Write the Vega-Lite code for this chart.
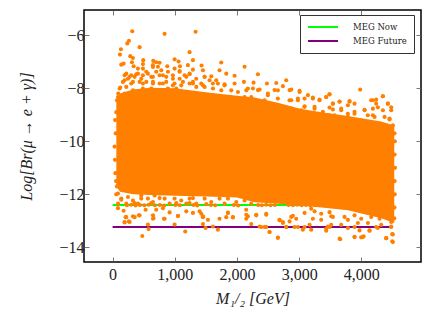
{"$schema":"https://vega.github.io/schema/vega-lite/v6.json","width":337,"height":252,"autosize":"none","padding":{"left":84,"top":10,"right":10,"bottom":60},"background":"white","config":{"view":{"stroke":"black","strokeWidth":1.5},"font":"Liberation Serif","axis":{"grid":false,"domain":false,"tickColor":"#555","tickWidth":0.8,"tickSize":-5,"labelColor":"#222","labelFont":"Liberation Serif","labelFontSize":16,"titleFont":"Liberation Serif","titleFontSize":16,"titleFontStyle":"italic","titleFontWeight":"normal","titleColor":"#222"}},"datasets":{"lines":[{"m":0,"br":-12.4,"limit":"MEG Now"},{"m":4500,"br":-12.4,"limit":"MEG Now"},{"m":0,"br":-13.23,"limit":"MEG Future"},{"m":4500,"br":-13.23,"limit":"MEG Future"}],"core":[{"m":60,"hi":-8.45,"lo":-11.7},{"m":120,"hi":-8.2,"lo":-11.9},{"m":327,"hi":-8.05,"lo":-12.0},{"m":600,"hi":-7.98,"lo":-12.02},{"m":1000,"hi":-8.0,"lo":-12.05},{"m":1500,"hi":-8.15,"lo":-12.08},{"m":2000,"hi":-8.28,"lo":-12.12},{"m":2283,"hi":-8.35,"lo":-12.3},{"m":2658,"hi":-8.55,"lo":-12.35},{"m":3033,"hi":-8.78,"lo":-12.42},{"m":3360,"hi":-8.9,"lo":-12.5},{"m":3784,"hi":-9.05,"lo":-12.6},{"m":4052,"hi":-9.15,"lo":-12.75},{"m":4320,"hi":-9.25,"lo":-12.9},{"m":4530,"hi":-9.4,"lo":-13.08}],"points":[{"m":316,"br":-5.85},{"m":836,"br":-5.95},{"m":1335,"br":-5.87},{"m":263,"br":-6.21},{"m":236,"br":-6.31},{"m":434,"br":-6.45},{"m":134,"br":-6.53},{"m":118,"br":-6.73},{"m":1238,"br":-6.64},{"m":284,"br":-6.79},{"m":327,"br":-6.86},{"m":493,"br":-6.94},{"m":654,"br":-6.97},{"m":702,"br":-7.02},{"m":756,"br":-7.04},{"m":997,"br":-6.91},{"m":1061,"br":-6.99},{"m":1292,"br":-6.94},{"m":1431,"br":-7.14},{"m":177,"br":-7.07},{"m":139,"br":-7.11},{"m":311,"br":-7.02},{"m":338,"br":-7.17},{"m":488,"br":-7.09},{"m":407,"br":-7.26},{"m":649,"br":-7.13},{"m":729,"br":-7.19},{"m":879,"br":-7.17},{"m":997,"br":-7.26},{"m":1083,"br":-7.17},{"m":1211,"br":-7.13},{"m":1292,"br":-7.3},{"m":1453,"br":-7.32},{"m":220,"br":-7.45},{"m":300,"br":-7.51},{"m":380,"br":-7.47},{"m":461,"br":-7.64},{"m":541,"br":-7.38},{"m":622,"br":-7.57},{"m":702,"br":-7.38},{"m":809,"br":-7.51},{"m":890,"br":-7.38},{"m":970,"br":-7.64},{"m":1077,"br":-7.35},{"m":1158,"br":-7.51},{"m":1238,"br":-7.47},{"m":1345,"br":-7.64},{"m":1479,"br":-7.57},{"m":1587,"br":-7.55},{"m":193,"br":-7.7},{"m":123,"br":-7.97},{"m":91,"br":-8.2},{"m":70,"br":-8.45},{"m":327,"br":-7.76},{"m":488,"br":-7.82},{"m":649,"br":-7.76},{"m":809,"br":-7.82},{"m":970,"br":-7.89},{"m":1131,"br":-7.76},{"m":1292,"br":-7.82},{"m":1453,"br":-7.89},{"m":1613,"br":-7.82},{"m":247,"br":-7.64},{"m":1747,"br":-7.03},{"m":1720,"br":-7.32},{"m":1828,"br":-7.45},{"m":1962,"br":-7.53},{"m":2122,"br":-7.19},{"m":2337,"br":-7.47},{"m":2792,"br":-7.7},{"m":2632,"br":-7.8},{"m":2482,"br":-7.82},{"m":2267,"br":-7.79},{"m":2112,"br":-7.76},{"m":1962,"br":-7.82},{"m":1801,"br":-7.85},{"m":1667,"br":-7.7},{"m":2873,"br":-8.05},{"m":3007,"br":-8.1},{"m":2739,"br":-7.92},{"m":3982,"br":-8.05},{"m":3489,"br":-8.23},{"m":3436,"br":-8.33},{"m":3328,"br":-8.43},{"m":3221,"br":-8.35},{"m":3087,"br":-8.39},{"m":4347,"br":-8.3},{"m":4240,"br":-8.43},{"m":4159,"br":-8.45},{"m":3811,"br":-8.48},{"m":3650,"br":-8.5},{"m":3543,"br":-8.58},{"m":4481,"br":-8.72},{"m":4427,"br":-8.58},{"m":4266,"br":-8.72},{"m":4052,"br":-8.81},{"m":3891,"br":-8.89},{"m":3677,"br":-8.77},{"m":3489,"br":-8.73},{"m":3248,"br":-8.7},{"m":3087,"br":-8.68},{"m":2846,"br":-8.45},{"m":2658,"br":-8.08},{"m":2364,"br":-8.05},{"m":2176,"br":-8.01},{"m":2498,"br":-8.26},{"m":2980,"br":-8.45},{"m":4508,"br":-9.4},{"m":4454,"br":-9.18},{"m":4186,"br":-9.02},{"m":4374,"br":-9.08},{"m":3998,"br":-9.21},{"m":3784,"br":-9.08},{"m":3570,"br":-9.02},{"m":3382,"br":-8.96},{"m":477,"br":-13.57},{"m":1168,"br":-13.4},{"m":579,"br":-13.31},{"m":568,"br":-13.14},{"m":997,"br":-13.14},{"m":1453,"br":-13.12},{"m":1495,"br":-13.27},{"m":1613,"br":-13.21},{"m":193,"br":-13.06},{"m":263,"br":-13.02},{"m":209,"br":-12.86},{"m":327,"br":-12.83},{"m":423,"br":-12.79},{"m":659,"br":-12.89},{"m":825,"br":-12.92},{"m":1051,"br":-12.81},{"m":1292,"br":-12.7},{"m":1453,"br":-12.83},{"m":1533,"br":-12.96},{"m":86,"br":-12.52},{"m":177,"br":-12.62},{"m":531,"br":-12.58},{"m":702,"br":-12.58},{"m":917,"br":-12.68},{"m":1185,"br":-12.64},{"m":1399,"br":-12.64},{"m":809,"br":-12.52},{"m":354,"br":-12.33},{"m":622,"br":-12.33},{"m":1024,"br":-12.33},{"m":1238,"br":-12.33},{"m":1506,"br":-12.37},{"m":139,"br":-12.2},{"m":461,"br":-12.16},{"m":756,"br":-12.14},{"m":1292,"br":-12.14},{"m":59,"br":-12.0},{"m":70,"br":-11.7},{"m":1694,"br":-13.33},{"m":1720,"br":-12.92},{"m":1854,"br":-12.7},{"m":1935,"br":-12.87},{"m":2149,"br":-12.58},{"m":2176,"br":-12.83},{"m":2310,"br":-12.77},{"m":2230,"br":-13.12},{"m":2364,"br":-13.21},{"m":2471,"br":-13.23},{"m":2524,"br":-13.42},{"m":2658,"br":-13.64},{"m":2471,"br":-12.77},{"m":2685,"br":-12.96},{"m":2739,"br":-13.08},{"m":2792,"br":-13.23},{"m":2900,"br":-12.81},{"m":2846,"br":-13.02},{"m":2926,"br":-13.23},{"m":3060,"br":-13.33},{"m":3194,"br":-13.33},{"m":3168,"br":-13.15},{"m":3436,"br":-13.37},{"m":3462,"br":-13.21},{"m":3516,"br":-13.15},{"m":3661,"br":-13.69},{"m":3891,"br":-13.6},{"m":3998,"br":-13.62},{"m":4036,"br":-13.58},{"m":4132,"br":-13.37},{"m":4266,"br":-13.27},{"m":4400,"br":-13.65},{"m":4497,"br":-13.77},{"m":4497,"br":-13.5},{"m":3784,"br":-13.27},{"m":3945,"br":-13.08},{"m":3677,"br":-13.15},{"m":3355,"br":-12.96},{"m":3087,"br":-12.7},{"m":3248,"br":-12.64},{"m":3516,"br":-12.83},{"m":3784,"br":-12.96},{"m":4106,"br":-13.08},{"m":4320,"br":-13.15},{"m":4481,"br":-13.21},{"m":4534,"br":-9.7},{"m":4540,"br":-10.0},{"m":4535,"br":-10.5},{"m":4542,"br":-11.0},{"m":4536,"br":-11.5},{"m":4538,"br":-12.0},{"m":4533,"br":-12.5},{"m":4530,"br":-12.9},{"m":40,"br":-9.2},{"m":50,"br":-9.7},{"m":32,"br":-10.2},{"m":38,"br":-10.7},{"m":45,"br":-11.2},{"m":55,"br":-11.5},{"m":60,"br":-8.9},{"m":193,"br":-7.51},{"m":274,"br":-7.57},{"m":166,"br":-7.76},{"m":354,"br":-7.57},{"m":408,"br":-7.45},{"m":488,"br":-7.51},{"m":568,"br":-7.45},{"m":649,"br":-7.57},{"m":756,"br":-7.51},{"m":863,"br":-7.57},{"m":970,"br":-7.51},{"m":1078,"br":-7.64},{"m":1185,"br":-7.57},{"m":1292,"br":-7.76},{"m":1426,"br":-7.82},{"m":1560,"br":-7.7},{"m":1694,"br":-7.82},{"m":1801,"br":-7.89},{"m":113,"br":-8.01},{"m":220,"br":-7.95},{"m":300,"br":-7.82},{"m":434,"br":-7.76},{"m":542,"br":-7.76},{"m":649,"br":-7.82},{"m":756,"br":-7.82},{"m":863,"br":-7.76},{"m":997,"br":-7.82},{"m":1104,"br":-7.89},{"m":1238,"br":-7.82},{"m":1346,"br":-7.95},{"m":1480,"br":-7.95},{"m":1614,"br":-8.01},{"m":1748,"br":-8.08},{"m":1908,"br":-8.08},{"m":2016,"br":-8.14},{"m":2150,"br":-8.08},{"m":2257,"br":-8.01},{"m":86,"br":-8.33},{"m":193,"br":-8.2},{"m":327,"br":-8.08},{"m":488,"br":-8.01},{"m":622,"br":-8.01},{"m":1855,"br":-8.33},{"m":1989,"br":-8.39},{"m":2123,"br":-8.33},{"m":2230,"br":-8.33},{"m":729,"br":-8.08},{"m":890,"br":-8.01},{"m":1024,"br":-8.01},{"m":488,"br":-7.26},{"m":649,"br":-7.2},{"m":783,"br":-7.32},{"m":1078,"br":-7.38},{"m":1238,"br":-7.45},{"m":1480,"br":-7.57},{"m":2337,"br":-8.07},{"m":2497,"br":-8.2},{"m":2605,"br":-8.07},{"m":2444,"br":-8.45},{"m":2658,"br":-8.39},{"m":2846,"br":-8.07},{"m":2873,"br":-8.45},{"m":3007,"br":-8.14},{"m":3141,"br":-8.26},{"m":2980,"br":-8.39},{"m":3221,"br":-8.39},{"m":3328,"br":-8.45},{"m":3435,"br":-8.33},{"m":3489,"br":-8.23},{"m":3543,"br":-8.58},{"m":3650,"br":-8.51},{"m":3811,"br":-8.51},{"m":3891,"br":-8.58},{"m":3784,"br":-8.64},{"m":4052,"br":-8.83},{"m":4186,"br":-8.45},{"m":4239,"br":-8.58},{"m":4347,"br":-8.3},{"m":4427,"br":-8.58},{"m":4481,"br":-8.83},{"m":4347,"br":-8.83},{"m":4186,"br":-8.77},{"m":3677,"br":-8.83},{"m":3543,"br":-8.8},{"m":3891,"br":-8.96},{"m":3382,"br":-8.89},{"m":3087,"br":-8.7},{"m":2873,"br":-8.77},{"m":2658,"br":-8.7},{"m":2497,"br":-8.58},{"m":3248,"br":-8.77},{"m":4105,"br":-9.02},{"m":4454,"br":-9.14},{"m":4213,"br":-9.08},{"m":3784,"br":-8.96},{"m":3489,"br":-9.02},{"m":3248,"br":-8.96},{"m":3033,"br":-8.83},{"m":86,"br":-11.97},{"m":140,"br":-12.16},{"m":86,"br":-12.35},{"m":247,"br":-12.1},{"m":327,"br":-12.23},{"m":220,"br":-12.35},{"m":461,"br":-12.04},{"m":568,"br":-12.16},{"m":649,"br":-12.29},{"m":408,"br":-12.35},{"m":756,"br":-11.97},{"m":837,"br":-12.16},{"m":997,"br":-12.16},{"m":1104,"br":-12.23},{"m":1238,"br":-12.16},{"m":1346,"br":-12.35},{"m":1480,"br":-12.16},{"m":1587,"br":-12.29},{"m":1721,"br":-12.16},{"m":1855,"br":-12.16},{"m":1989,"br":-12.29},{"m":2123,"br":-12.23},{"m":2230,"br":-12.35},{"m":917,"br":-12.35},{"m":1185,"br":-12.35},{"m":676,"br":-12.04},{"m":1801,"br":-12.35},{"m":220,"br":-12.86},{"m":193,"br":-13.04},{"m":274,"br":-13.04},{"m":354,"br":-12.86},{"m":434,"br":-12.79},{"m":649,"br":-12.92},{"m":649,"br":-12.79},{"m":837,"br":-12.92},{"m":1051,"br":-12.82},{"m":1453,"br":-12.86},{"m":1426,"br":-12.73},{"m":1828,"br":-12.86},{"m":1935,"br":-12.86},{"m":1855,"br":-12.69},{"m":2150,"br":-12.92},{"m":2150,"br":-12.77},{"m":2310,"br":-12.79},{"m":2471,"br":-12.73},{"m":2685,"br":-12.98},{"m":2739,"br":-13.04},{"m":2873,"br":-12.85},{"m":2953,"br":-12.92},{"m":3194,"br":-12.54},{"m":3221,"br":-12.92},{"m":3489,"br":-12.67},{"m":3543,"br":-12.85},{"m":3355,"br":-12.73},{"m":3730,"br":-12.85},{"m":3891,"br":-12.79},{"m":3998,"br":-12.92},{"m":4159,"br":-12.85},{"m":4293,"br":-12.92},{"m":4454,"br":-12.92},{"m":4481,"br":-13.04},{"m":2658,"br":-13.63},{"m":3650,"br":-13.67},{"m":3891,"br":-13.61},{"m":4025,"br":-13.61},{"m":4400,"br":-13.65},{"m":4507,"br":-13.51},{"m":4507,"br":-13.8},{"m":2524,"br":-13.42},{"m":2390,"br":-13.23},{"m":2444,"br":-13.23},{"m":2792,"br":-13.23},{"m":2980,"br":-13.23},{"m":3087,"br":-13.23},{"m":3435,"br":-13.3},{"m":3489,"br":-13.23},{"m":3891,"br":-13.23},{"m":3971,"br":-13.36},{"m":4132,"br":-13.36},{"m":4239,"br":-13.23},{"m":4481,"br":-13.23},{"m":230,"br":-12.41},{"m":300,"br":-12.39},{"m":370,"br":-12.42},{"m":440,"br":-12.4},{"m":510,"br":-12.41},{"m":580,"br":-12.39},{"m":680,"br":-12.41},{"m":760,"br":-12.4},{"m":830,"br":-12.42},{"m":1010,"br":-12.4},{"m":1080,"br":-12.41},{"m":1300,"br":-12.4},{"m":1360,"br":-12.42},{"m":1580,"br":-12.4},{"m":1650,"br":-12.41},{"m":1950,"br":-12.4},{"m":2020,"br":-12.42},{"m":2340,"br":-12.4},{"m":2400,"br":-12.41},{"m":2470,"br":-12.39},{"m":2540,"br":-12.41},{"m":2610,"br":-12.4},{"m":2830,"br":-12.4},{"m":2900,"br":-12.41},{"m":2970,"br":-12.39},{"m":3040,"br":-12.41},{"m":3110,"br":-12.4},{"m":3180,"br":-12.41},{"m":3250,"br":-12.4},{"m":3320,"br":-12.41}]},"layer":[{"data":{"name":"lines"},"mark":{"type":"line","strokeWidth":2},"encoding":{"x":{"field":"m","type":"quantitative","scale":{"domain":[-460,4960],"nice":false,"zero":false},"axis":{"orient":"bottom","values":[0,1000,2000,3000,4000],"format":",d","title":"M₁/₂  [GeV]","titlePadding":8,"labelPadding":9}},"y":{"field":"br","type":"quantitative","scale":{"domain":[-14.55,-5.05],"nice":false,"zero":false},"axis":{"orient":"left","values":[-14,-12,-10,-8,-6],"title":"Log[Br(μ → e + γ)]","titlePadding":24,"labelPadding":5}},"color":{"field":"limit","type":"nominal","scale":{"domain":["MEG Now","MEG Future"],"range":["#00ff00","#800080"]},"legend":{"title":null,"orient":"none","legendX":216,"legendY":5,"direction":"vertical","fillColor":"white","strokeColor":"#333","padding":7,"symbolType":"stroke","symbolSize":900,"symbolStrokeWidth":2,"clipHeight":10,"labelFontSize":8.5,"labelFont":"DejaVu Serif","labelColor":"#222","rowPadding":4,"labelOffset":14},"sort":null},"detail":{"field":"limit"}}},{"data":{"name":"lines"},"mark":{"type":"line","opacity":0},"encoding":{"x":{"field":"m","type":"quantitative","axis":{"orient":"top","values":[0,1000,2000,3000,4000],"labels":false,"title":null}},"y":{"field":"br","type":"quantitative","axis":{"orient":"right","values":[-14,-12,-10,-8,-6],"labels":false,"title":null}},"detail":{"field":"limit"}}},{"data":{"name":"core"},"mark":{"type":"area","color":"#ff8000"},"encoding":{"x":{"field":"m","type":"quantitative","axis":null},"y":{"field":"hi","type":"quantitative","axis":null},"y2":{"field":"lo"}}},{"data":{"name":"points"},"mark":{"type":"point","filled":true,"size":17,"opacity":1,"color":"#ff8000"},"encoding":{"x":{"field":"m","type":"quantitative","axis":null},"y":{"field":"br","type":"quantitative","axis":null}}}],"resolve":{"axis":{"x":"independent","y":"independent"}}}
